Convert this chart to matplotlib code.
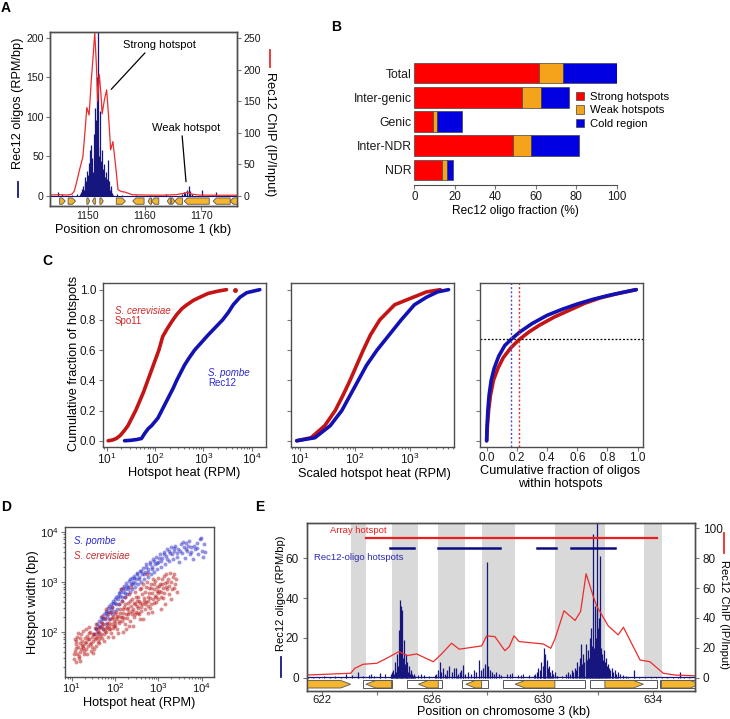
import numpy as np
import matplotlib
matplotlib.use("Agg")
import matplotlib.pyplot as plt
from matplotlib.patches import Polygon, Patch
from matplotlib.lines import Line2D
from matplotlib.ticker import LogLocator, NullFormatter, FixedLocator, FixedFormatter, FormatStrFormatter

plt.rcParams['font.family'] = ['Liberation Sans', 'DejaVu Sans']
plt.rcParams['mathtext.default'] = 'regular'

# ---------------- data ----------------
# A: chromosome 1 region
a_oligo_kb = np.round(np.arange(1148.6, 1154.45, 0.1), 2)
a_oligo_val = [2, 3, 5, 4,
               9, 6, 13, 8, 16, 24, 11, 19, 32, 15,
               26, 42, 21, 58, 18, 38, 65, 24, 48, 30,
               78, 28, 52, 112, 42, 96, 150, 62, 215, 50,
               36, 108, 32, 44, 27, 58, 22, 34, 19, 40,
               24, 16, 30, 13, 22, 46, 15, 19, 11, 8,
               13, 6, 4, 2, 1]
a_spike_kb = [1144.7, 1145.5, 1147.2, 1148.0, 1155.2, 1156.0, 1158.5, 1161.0, 1163.8,
              1166.6, 1166.9, 1167.2, 1167.5, 1167.8, 1168.0, 1168.3, 1170.2, 1172.6, 1174.5]
a_spike_val = [5, 2, 1.5, 2, 2, 1.5, 1, 1.5, 2, 3, 5, 4, 8, 12, 6, 3, 7.6, 5, 1.5]
a_chip_kb = [1143.3, 1145.0, 1146.5, 1147.2, 1147.6, 1148.0, 1148.5, 1149.1, 1149.5, 1149.8,
             1150.2, 1150.6, 1150.9, 1151.2, 1151.5, 1151.7, 1152.0, 1152.3, 1152.5, 1152.9,
             1153.3, 1153.7, 1154.0, 1154.4, 1154.9, 1155.3, 1155.9, 1156.6, 1157.2, 1157.8,
             1160.0, 1163.0, 1165.5, 1166.8, 1167.6, 1168.3, 1169.5, 1172.0, 1176.3]
a_chip_val = [1.5, 2, 1.5, 3, 8, 22, 41, 62, 105, 140,
              128, 185, 220, 258, 205, 150, 192, 160, 130, 152,
              168, 118, 73, 86, 46, 10, 7, 6, 4, 2,
              1.5, 1.2, 2, 4, 6, 3, 1.5, 1.2, 1.2]
a_genes = [(1145.0, 1146.0, 1), (1146.5, 1147.8, 1), (1149.8, 1150.3, 1), (1150.8, 1151.3, -1),
           (1152.1, 1152.7, 1), (1155.0, 1156.6, 1), (1157.9, 1159.9, -1), (1160.6, 1161.2, -1),
           (1161.2, 1162.5, -1), (1164.0, 1164.6, -1), (1164.7, 1165.3, 1), (1165.3, 1166.7, -1),
           (1167.0, 1171.4, -1), (1172.1, 1175.1, -1), (1175.1, 1176.6, -1)]

# B: oligo fractions (%)
b_cats = ['Total', 'Inter-genic', 'Genic', 'Inter-NDR', 'NDR']
b_strong = [61.8, 53.0, 9.1, 48.6, 13.5]
b_weak = [11.5, 9.4, 1.9, 8.9, 2.5]
b_cold = [26.7, 14.2, 12.7, 23.7, 3.0]

# C: cumulative distributions (log10 heat, fraction)
c1_sc_log = [1.03, 1.12, 1.2, 1.28, 1.36, 1.44, 1.52, 1.6, 1.68, 1.76, 1.84, 1.92, 2.0, 2.08,
             2.16, 2.25, 2.35, 2.45, 2.56, 2.66, 2.8, 2.93, 3.1, 3.3, 3.48]
c1_sc_y = [0.0, 0.005, 0.015, 0.035, 0.065, 0.1, 0.15, 0.2, 0.26, 0.32, 0.39, 0.46, 0.53, 0.6,
           0.69, 0.74, 0.79, 0.835, 0.875, 0.9, 0.93, 0.95, 0.975, 0.99, 1.0]
c1_sc_last = (3.66, 1.0)
c1_sp_log = [1.37, 1.5, 1.62, 1.72, 1.79, 1.86, 1.93, 2.06, 2.14, 2.22, 2.3, 2.38, 2.45, 2.53,
             2.61, 2.71, 2.82, 2.96, 3.1, 3.25, 3.4, 3.52, 3.62, 3.76, 3.9, 4.17]
c1_sp_y = [0.0, 0.003, 0.008, 0.015, 0.05, 0.08, 0.1, 0.15, 0.2, 0.25, 0.3, 0.35, 0.4, 0.45,
           0.5, 0.55, 0.6, 0.65, 0.7, 0.75, 0.8, 0.85, 0.9, 0.95, 0.98, 1.0]
c2_sc_log = [0.94, 1.2, 1.45, 1.64, 1.78, 1.91, 2.03, 2.15, 2.28, 2.45, 2.72, 3.06, 3.3, 3.55]
c2_sc_y = [0.0, 0.02, 0.1, 0.2, 0.3, 0.4, 0.5, 0.6, 0.7, 0.8, 0.9, 0.95, 0.985, 1.0]
c2_sp_log = [0.94, 1.27, 1.55, 1.76, 1.91, 2.06, 2.21, 2.4, 2.62, 2.84, 3.08, 3.3, 3.5, 3.7]
c2_sp_y = [0.0, 0.02, 0.1, 0.2, 0.3, 0.4, 0.5, 0.6, 0.7, 0.8, 0.9, 0.95, 0.985, 1.0]
c3_sp_x = [0.0, 0.003, 0.008, 0.016, 0.03, 0.05, 0.08, 0.12, 0.161, 0.22, 0.3, 0.4, 0.5, 0.6,
           0.7, 0.8, 0.9, 0.99]
c3_sp_y = [0.0, 0.1, 0.2, 0.3, 0.4, 0.48, 0.56, 0.63, 0.67, 0.72, 0.775, 0.83, 0.87, 0.905,
           0.935, 0.96, 0.982, 1.0]
c3_sc_x = [0.0, 0.005, 0.013, 0.025, 0.045, 0.075, 0.11, 0.16, 0.216, 0.28, 0.35, 0.45, 0.55,
           0.65, 0.75, 0.85, 0.99]
c3_sc_y = [0.0, 0.1, 0.2, 0.3, 0.4, 0.48, 0.55, 0.615, 0.67, 0.72, 0.765, 0.82, 0.865,
           0.91, 0.945, 0.97, 1.0]
c3_hline = 0.672
c3_sp_cut = 0.161
c3_sc_cut = 0.216

# D: hotspot heat vs width (log10 values)
d_sp = [(1.52, 1.95), (1.55, 2.05), (1.58, 2.15), (1.60, 1.98), (1.62, 2.22), (1.65, 2.10),
        (1.67, 2.30), (1.70, 2.18), (1.72, 2.05), (1.74, 2.35), (1.76, 2.25), (1.78, 2.42),
        (1.80, 2.15), (1.82, 2.32), (1.84, 2.48), (1.86, 2.25), (1.88, 2.40), (1.90, 2.55),
        (1.92, 2.35), (1.94, 2.50), (1.96, 2.62), (1.98, 2.42), (2.00, 2.58), (2.02, 2.70),
        (2.04, 2.45), (2.06, 2.65), (2.08, 2.78), (2.10, 2.55), (2.12, 2.72), (2.14, 2.85),
        (2.16, 2.62), (2.18, 2.80), (2.20, 2.92), (2.22, 2.70), (2.24, 2.85), (2.26, 2.98),
        (2.28, 2.75), (2.30, 2.90), (2.32, 3.02), (2.34, 2.80), (2.36, 2.95), (2.38, 3.08),
        (2.40, 2.85), (2.42, 3.00), (2.44, 3.12), (2.46, 2.90), (2.48, 3.05), (2.50, 3.15),
        (2.52, 2.95), (2.55, 3.10), (2.57, 3.22), (2.60, 3.00), (2.62, 3.15), (2.65, 3.28),
        (2.67, 3.05), (2.70, 3.20), (2.72, 3.35), (2.75, 3.10), (2.77, 3.25), (2.80, 3.40),
        (2.82, 3.15), (2.85, 3.30), (2.87, 3.45), (2.90, 3.20), (2.92, 3.35), (2.95, 3.50),
        (2.97, 3.25), (3.00, 3.40), (3.03, 3.55), (3.06, 3.30), (3.09, 3.48), (3.12, 3.60),
        (3.15, 3.35), (3.18, 3.52), (3.21, 3.65), (3.24, 3.42), (3.27, 3.58), (3.30, 3.70),
        (3.33, 3.45), (3.36, 3.62), (3.39, 3.72), (3.42, 3.50), (3.45, 3.66), (3.48, 3.40),
        (3.52, 3.75), (3.55, 3.58), (3.58, 3.70), (3.61, 3.48), (3.64, 3.78), (3.67, 3.62),
        (3.70, 3.82), (3.73, 3.55), (3.76, 3.70), (3.80, 3.45), (3.84, 3.65), (3.88, 3.78),
        (3.92, 3.55), (3.96, 3.85), (4.00, 3.62), (4.04, 3.50), (4.08, 3.60), (3.98, 3.88),
        (1.57, 2.08), (1.63, 2.12), (1.69, 2.25), (1.73, 2.28), (1.79, 2.38), (1.83, 2.40),
        (1.87, 2.52), (1.91, 2.45), (1.95, 2.58), (1.99, 2.65), (2.03, 2.55), (2.07, 2.72),
        (2.11, 2.80), (2.15, 2.70), (2.19, 2.88), (2.23, 2.78), (2.27, 2.92), (2.31, 2.85),
        (2.35, 3.05), (2.39, 2.95), (2.43, 3.08), (2.47, 2.98), (2.51, 3.18), (2.56, 3.05),
        (2.61, 3.22), (2.66, 3.15), (2.71, 3.30), (2.76, 3.20), (2.81, 3.35), (2.86, 3.25),
        (2.91, 3.42), (2.96, 3.38), (3.01, 3.48), (3.07, 3.42), (3.13, 3.55), (3.19, 3.45),
        (3.25, 3.62), (3.31, 3.55), (3.37, 3.68), (3.43, 3.58), (3.50, 3.62), (3.57, 3.80),
        (3.63, 3.65), (3.69, 3.72), (3.75, 3.60), (3.82, 3.72), (3.90, 3.68), (4.06, 3.75)]
d_sc = [(1.06, 1.45), (1.08, 1.62), (1.10, 1.75), (1.07, 1.85), (1.12, 1.55), (1.15, 1.70),
        (1.13, 1.90), (1.18, 1.60), (1.20, 1.78), (1.17, 1.48), (1.22, 1.95), (1.25, 1.68),
        (1.24, 1.82), (1.28, 1.55), (1.27, 1.72), (1.30, 1.88), (1.10, 1.40), (1.20, 1.42),
        (1.26, 2.02), (1.14, 1.98), (1.32, 1.65), (1.34, 1.80), (1.36, 1.92), (1.38, 1.72),
        (1.40, 1.85), (1.42, 2.00), (1.44, 1.62), (1.45, 1.78), (1.47, 1.90), (1.50, 1.82),
        (1.52, 1.95), (1.53, 2.08), (1.55, 1.72), (1.57, 1.88), (1.58, 2.00), (1.35, 1.55),
        (1.48, 1.58), (1.41, 2.10), (1.56, 2.15), (1.60, 1.80), (1.33, 2.05), (1.46, 1.70),
        (1.51, 1.65), (1.59, 1.92), (1.62, 1.85), (1.63, 2.00), (1.65, 2.10), (1.67, 1.95),
        (1.68, 2.20), (1.70, 1.88), (1.72, 2.05), (1.73, 2.15), (1.75, 1.95), (1.77, 2.28),
        (1.78, 2.08), (1.80, 2.00), (1.82, 2.18), (1.83, 2.35), (1.85, 2.05), (1.86, 2.12),
        (1.88, 2.25), (1.90, 1.98), (1.91, 2.40), (1.93, 2.15), (1.95, 2.08), (1.96, 2.30),
        (1.98, 2.22), (2.00, 2.12), (1.64, 1.78), (1.74, 1.82), (1.84, 1.90), (1.94, 2.50),
        (1.79, 2.45), (1.69, 2.32), (2.02, 2.25), (2.03, 2.40), (2.05, 2.05), (2.07, 2.32),
        (2.08, 2.55), (2.10, 2.18), (2.12, 2.45), (2.13, 2.30), (2.15, 2.62), (2.17, 2.22),
        (2.18, 2.38), (2.20, 2.50), (2.22, 2.15), (2.23, 2.70), (2.25, 2.35), (2.27, 2.45),
        (2.28, 2.28), (2.30, 2.58), (2.32, 2.40), (2.33, 2.75), (2.35, 2.22), (2.37, 2.52),
        (2.38, 2.35), (2.40, 2.65), (2.42, 2.45), (2.43, 2.30), (2.45, 2.80), (2.47, 2.55),
        (2.48, 2.40), (2.50, 2.62), (2.06, 1.98), (2.26, 2.05), (2.41, 2.12), (2.14, 2.85),
        (2.36, 2.90), (2.52, 2.48), (2.54, 2.70), (2.55, 2.35), (2.57, 2.85), (2.58, 2.58),
        (2.60, 2.42), (2.62, 2.75), (2.63, 2.55), (2.65, 2.95), (2.67, 2.62), (2.68, 2.45),
        (2.70, 2.80), (2.72, 2.60), (2.73, 3.00), (2.75, 2.70), (2.77, 2.52), (2.78, 2.88),
        (2.80, 2.68), (2.82, 2.95), (2.83, 2.55), (2.85, 2.78), (2.87, 3.05), (2.88, 2.65),
        (2.90, 2.85), (2.92, 2.72), (2.93, 3.02), (2.95, 2.60), (2.97, 2.90), (2.98, 2.78),
        (3.00, 3.08), (2.64, 2.25), (2.86, 2.40), (2.74, 3.15), (3.02, 2.82), (3.04, 2.95),
        (3.06, 2.70), (3.08, 3.05), (3.10, 2.88), (3.12, 3.12), (3.14, 2.78), (3.16, 2.98),
        (3.18, 3.15), (3.20, 2.85), (3.22, 3.05), (3.25, 2.92), (3.27, 3.18), (3.30, 3.00),
        (3.33, 3.10), (3.36, 2.88), (3.40, 3.05), (3.43, 2.80), (3.15, 2.55), (3.28, 2.65),
        (1.05, 1.55), (1.09, 1.68), (1.11, 1.82), (1.16, 1.52), (1.19, 1.88), (1.21, 1.65),
        (1.23, 1.74), (1.29, 1.62), (1.31, 1.78), (1.37, 1.85), (1.39, 1.98), (1.43, 1.75),
        (1.49, 1.95), (1.54, 1.85), (1.61, 2.05), (1.66, 1.92), (1.71, 2.12), (1.76, 2.02),
        (1.81, 2.10), (1.87, 2.18), (1.89, 2.05), (1.92, 2.28), (1.97, 2.12), (1.99, 2.35),
        (2.01, 2.18), (2.04, 2.30), (2.09, 2.22), (2.11, 2.38), (2.16, 2.30), (2.19, 2.45),
        (2.21, 2.28), (2.24, 2.55), (2.29, 2.35), (2.31, 2.48), (2.34, 2.62), (2.39, 2.42),
        (2.44, 2.58), (2.46, 2.35), (2.49, 2.70), (2.51, 2.52), (2.53, 2.38), (2.56, 2.62),
        (2.59, 2.50), (2.61, 2.88), (2.66, 2.68), (2.69, 2.55), (2.71, 2.90), (2.76, 2.62),
        (2.79, 2.78), (2.81, 2.48), (2.84, 2.88), (2.89, 2.58), (2.91, 2.95), (2.94, 2.70),
        (2.96, 2.82), (2.99, 2.65), (3.01, 2.92), (3.05, 2.80), (3.09, 2.95), (3.11, 2.68),
        (3.17, 2.90), (3.21, 3.00), (3.24, 2.75), (3.31, 2.85), (3.35, 3.15), (3.38, 2.95),
        (1.96, 1.90), (2.18, 2.00), (2.33, 2.12), (2.57, 2.25), (2.77, 2.38), (3.05, 2.45)]

# E: chromosome 3 region
e_cluster_start, e_cluster_step = 624.50, 0.03
e_cluster_val = [2, 3, 1, 4, 2, 8, 3, 5, 12, 6, 24, 39, 15, 36, 34, 10, 19, 7, 12, 5,
                 8, 3, 6, 2, 4, 3, 2, 1, 2, 1]
e_oligo_kb = [622.9, 623.3, 623.8, 624.1, 625.6, 626.15, 626.22, 626.27, 626.33, 626.4, 626.48,
              626.55, 626.62, 626.7, 626.78, 626.85, 626.92, 627.0, 627.05, 627.12, 627.2, 627.3,
              627.4, 627.5, 627.58, 627.68, 627.75, 627.85, 627.92, 627.99, 628.02, 628.08,
              628.15, 628.22, 628.3, 628.4, 628.8, 629.2, 629.72, 629.78, 629.84, 629.9, 629.95,
              630.0, 630.03, 630.05, 630.08, 630.1, 630.14, 630.18, 630.22, 630.27, 630.32,
              630.38, 630.45, 630.5, 630.85, 630.92, 631.0, 631.05, 631.1, 631.15, 631.2, 631.25,
              631.3, 631.35, 631.38, 631.42, 631.47, 631.5, 631.55, 631.57, 631.6, 631.64,
              631.68, 631.72, 631.75, 631.78, 631.8, 631.83, 631.86, 631.9, 631.93, 631.96,
              631.98, 632.0, 632.02, 632.05, 632.07, 632.1, 632.13, 632.17, 632.2, 632.24,
              632.28, 632.32, 632.36, 632.4, 632.45, 632.5, 632.55, 632.6, 632.66, 632.72,
              632.8, 632.9, 633.0, 633.3, 634.96]
e_oligo_val = [2, 3, 2, 2.5, 2, 2, 4, 8, 3, 5, 2,
               4, 6, 3, 5, 5, 2, 3, 4, 6.5, 2, 3,
               2, 4, 3, 9, 4, 5, 7, 58, 6, 4,
               3, 2, 3, 2, 2, 1.5, 2, 3, 5, 4, 8,
               6, 10, 15, 12, 7, 9, 5, 6, 3, 4,
               2, 3, 1, 2, 3, 2, 4, 3, 5, 4, 8,
               6, 10, 17, 7, 12, 8, 10, 17, 9, 14,
               10, 20, 25, 12, 16, 72, 15, 36, 20, 34,
               85, 25, 18, 30, 61, 15, 12, 9, 14, 8,
               10, 6, 7, 5, 4, 5, 3, 4, 2, 3,
               2, 1.5, 1, 4, 3]
e_bg_start, e_bg_step = 621.5, 0.2
e_bg_val = [0.5, 0.6, 0.4, 0.7, 0.5, 0.8, 0.6, 0.9, 1.2, 0.8, 1.0, 1.5, 0.9, 1.3, 1.8, 1.1,
            1.2, 0.9, 1.4, 1.0, 1.6, 1.3, 1.1, 1.5, 1.2, 0.9, 1.3, 1.0, 1.6, 1.2, 1.0, 1.4,
            1.8, 1.5, 2.0, 1.6, 1.8, 2.2, 1.5, 1.9, 1.4, 1.2, 1.0, 0.9, 1.1, 0.8, 1.0, 1.2,
            0.9, 0.7, 0.8, 0.6, 0.5, 0.7, 0.6, 0.5, 0.6, 0.5, 0.4, 0.5, 0.6, 0.4, 0.5, 0.4,
            0.5, 0.4, 0.5, 0.4, 0.5, 0.4]
e_chip_kb = [621.46, 623.05, 623.2, 623.5, 624.0, 624.35, 624.8, 625.08, 625.44, 626.04,
             626.34, 626.7, 626.98, 627.79, 627.97, 628.27, 628.63, 628.79, 628.96, 629.15,
             630.02, 630.29, 630.44, 630.77, 631.17, 631.37, 631.57, 631.83, 631.95, 632.37,
             632.73, 632.92, 633.52, 633.88, 634.36, 634.79, 635.51]
e_chip_val = [1.8, 3.0, 6.3, 9.0, 9.7, 13.0, 17.5, 14.8, 15.9, 10.7,
              15.9, 23.1, 19.1, 21.3, 28.0, 27.5, 18.1, 20.8, 28.0, 24.2,
              22.6, 19.7, 25.8, 44.8, 38.3, 44.3, 69.6, 54.4, 48.1, 34.7,
              28.7, 33.8, 11.9, 10.7, 3.0, 1.8, 1.3]
e_gray = [(623.05, 623.60), (624.53, 625.47), (626.22, 627.19), (627.81, 629.00),
          (630.44, 632.25), (633.66, 634.30)]
e_array_hotspot = (623.6, 634.15, 70)
e_oligo_hotspots = [(624.47, 625.35), (626.22, 628.45), (629.78, 630.47), (631.01, 632.63)]
e_oligo_hotspot_y = 65
e_gene_box = [(623.51, 624.53), (625.10, 626.34), (627.07, 628.01), (628.57, 631.53),
              (631.71, 634.15), (634.24, 635.7)]
e_orf = [(621.3, 623.05, 1), (623.60, 624.53, -1), (625.50, 626.22, -1), (627.22, 627.79, -1),
         (629.00, 630.44, -1), (632.25, 633.64, 1), (634.30, 635.7, 1)]

# ---------------- style ----------------
W, H = 730, 719
NAVY = '#16167e'
CHIP = '#ee2b2b'
SC_RED = '#c41414'
SP_BLUE = '#1212b4'
GENE = '#f5b52e'
EDGE = '#555555'

fig = plt.figure(figsize=(W / 100, H / 100), dpi=100)


def rect(l, t, r, b):
    return [l / W, 1 - b / H, (r - l) / W, (b - t) / H]


def ftext(x, y, s, **kw):
    kw.setdefault('ha', 'center')
    kw.setdefault('va', 'center')
    fig.text(x / W, 1 - y / H, s, **kw)


def fline(x0, y0, x1, y1, **kw):
    fig.add_artist(Line2D([x0 / W, x1 / W], [1 - y0 / H, 1 - y1 / H], **kw))


def style(ax, size=8.3):
    for s in ax.spines.values():
        s.set_color('#4d4d4d')
        s.set_linewidth(1.0)
    ax.tick_params(which='both', direction='out', color='#777777', labelcolor='#1a1a1a',
                   labelsize=size, width=0.8)
    ax.tick_params(which='major', length=3, pad=1.5)
    ax.tick_params(which='minor', length=1.6)


def add_gene(ax, start, end, strand, yc, h, tip, fc, z=3):
    tip = min(tip, (end - start) * 0.6)
    y0, y1 = yc - h / 2, yc + h / 2
    if strand > 0:
        pts = [(start, y0), (end - tip, y0), (end, yc), (end - tip, y1), (start, y1)]
    else:
        pts = [(end, y0), (start + tip, y0), (start, yc), (start + tip, y1), (end, y1)]
    ax.add_patch(Polygon(pts, closed=True, facecolor=fc, edgecolor=EDGE, lw=0.6, zorder=z))


# ---------------- A ----------------
axA = fig.add_axes(rect(50, 32, 237, 206))
style(axA, 7.6)
axA.set_xlim(1143.3, 1176.3)
axA.set_ylim(-12.7, 207.6)
axA.plot([1143.3, 1176.3], [0.4, 0.4], color=NAVY, lw=0.8)
axA.vlines(a_oligo_kb, 0, a_oligo_val, color=NAVY, lw=0.9)
axA.vlines(a_spike_kb, 0, a_spike_val, color=NAVY, lw=0.9)
for g0, g1, st in a_genes:
    add_gene(axA, g0, g1, st, -6.5, 8, 0.55, GENE)
axA.set_xticks([1150, 1160, 1170])
axA.set_yticks([0, 50, 100, 150, 200])
axA.tick_params(axis='x', pad=0.8)
axA2 = axA.twinx()
style(axA2, 7.6)
axA2.plot(a_chip_kb, a_chip_val, color=CHIP, lw=0.9)
axA2.set_ylim(-12.7 * 1.25, 207.6 * 1.25)
axA2.set_yticks([0, 50, 100, 150, 200, 250])
axA.annotate('Strong hotspot', xy=(1154.1, 135), xytext=(1162.7, 191), fontsize=8,
             ha='center', va='center',
             arrowprops=dict(arrowstyle='-', color='black', lw=0.9, relpos=(0.33, 0), shrinkA=0, shrinkB=0))
axA.annotate('Weak hotspot', xy=(1167.3, 18), xytext=(1167.3, 86), fontsize=8,
             ha='center', va='center',
             arrowprops=dict(arrowstyle='-', color='black', lw=0.9, relpos=(0.44, 0), shrinkA=0, shrinkB=0))
ftext(18.3, 103, 'Rec12 oligos (RPM/bp)', rotation=90, fontsize=9.2)
fline(18.3, 181.7, 18.3, 196.7, color=NAVY, lw=1.3)
ftext(270, 134.5, 'Rec12 ChIP (IP/Input)', rotation=-90, fontsize=9.2)
fline(270, 50, 270, 67, color=CHIP, lw=1.3)
ftext(143, 230, 'Position on chromosome 1 (kb)', fontsize=9.2)

# ---------------- B ----------------
axB = fig.add_axes(rect(414.3, 58, 616.7, 185))
ypos = np.arange(len(b_cats))[::-1]
strong = np.array(b_strong)
weak = np.array(b_weak)
cold = np.array(b_cold)
axB.barh(ypos, strong, height=0.85, color='#ff0000', edgecolor='#444444', lw=0.5, label='Strong hotspots')
axB.barh(ypos, weak, height=0.85, left=strong, color='#f5a31a', edgecolor='#444444', lw=0.5, label='Weak hotspots')
axB.barh(ypos, cold, height=0.85, left=strong + weak, color='#0000e0', edgecolor='#444444', lw=0.5, label='Cold region')
axB.set_xlim(0, 100)
axB.set_ylim(-0.62, 4.62)
for s in ['top', 'right', 'left']:
    axB.spines[s].set_visible(False)
axB.spines['bottom'].set_color('#4d4d4d')
axB.spines['bottom'].set_bounds(0, 100)
axB.set_yticks(ypos)
axB.set_yticklabels(b_cats)
axB.set_xticks([0, 20, 40, 60, 80, 100])
axB.tick_params(axis='y', length=0, pad=2, labelsize=8.8, labelcolor='#1a1a1a')
axB.tick_params(axis='x', direction='out', length=3, pad=1.5, color='#777777', labelsize=8.3, labelcolor='#1a1a1a')
fig.legend(handles=[Patch(facecolor='#ff0000', edgecolor='#444444', lw=0.5, label='Strong hotspots'),
                    Patch(facecolor='#f5a31a', edgecolor='#444444', lw=0.5, label='Weak hotspots'),
                    Patch(facecolor='#0000e0', edgecolor='#444444', lw=0.5, label='Cold region')],
           loc='upper left', bbox_to_anchor=(576 / W, 1 - 92 / H), frameon=False, fontsize=8.1,
           handlelength=0.75, handleheight=0.75, handletextpad=0.45, labelspacing=0.3, borderpad=0,
           borderaxespad=0)
ftext(515, 211, 'Rec12 oligo fraction (%)', fontsize=8.6)

# ---------------- C ----------------
c_tb = (283, 447.4)
axC1 = fig.add_axes(rect(102.5, c_tb[0], 265.5, c_tb[1]))
axC2 = fig.add_axes(rect(291, c_tb[0], 454.3, c_tb[1]))
axC3 = fig.add_axes(rect(480.3, c_tb[0], 643.3, c_tb[1]))
for ax in (axC1, axC2, axC3):
    style(ax, 8.5)
    ax.set_ylim(-0.044, 1.044)
    ax.set_yticks([0, 0.2, 0.4, 0.6, 0.8, 1.0])
    ax.tick_params(axis='x', pad=0.3)
axC1.yaxis.set_major_formatter(FormatStrFormatter('%.1f'))
axC2.set_yticklabels([])
axC3.set_yticklabels([])
for ax in (axC1, axC2):
    ax.set_xscale('log')
    ax.xaxis.set_major_locator(LogLocator(base=10, numticks=10))
    ax.xaxis.set_minor_locator(LogLocator(base=10, subs=np.arange(2, 10), numticks=10))
    ax.xaxis.set_minor_formatter(NullFormatter())
axC1.set_xlim(10 ** 0.913, 10 ** 4.288)
axC2.set_xlim(10 ** 0.836, 10 ** 3.805)
axC1.plot(10 ** np.array(c1_sc_log), c1_sc_y, color=SC_RED, lw=2.6, solid_capstyle='round')
axC1.plot([10 ** c1_sc_last[0]], [c1_sc_last[1]], 'o', color=SC_RED, ms=2.5)
axC1.plot(10 ** np.array(c1_sp_log), c1_sp_y, color=SP_BLUE, lw=2.6, solid_capstyle='round')
axC2.plot(10 ** np.array(c2_sc_log), c2_sc_y, color=SC_RED, lw=2.6, solid_capstyle='round')
axC2.plot(10 ** np.array(c2_sp_log), c2_sp_y, color=SP_BLUE, lw=2.6, solid_capstyle='round')
axC3.plot(c3_sc_x, c3_sc_y, color=SC_RED, lw=2.6, solid_capstyle='round')
axC3.plot(c3_sp_x, c3_sp_y, color=SP_BLUE, lw=2.6, solid_capstyle='round')
axC3.axhline(c3_hline, color='black', lw=0.9, ls=(0, (1.5, 1.5)))
axC3.axvline(c3_sp_cut, color='#4a4ae6', lw=1.0, ls=(0, (1.5, 1.5)))
axC3.axvline(c3_sc_cut, color='#e03030', lw=1.0, ls=(0, (1.5, 1.5)))
axC3.set_xlim(-0.042, 1.037)
axC3.set_xticks([0, 0.2, 0.4, 0.6, 0.8, 1.0])
axC3.xaxis.set_major_formatter(FormatStrFormatter('%.1f'))
axC1.text(0.077, 0.832, 'S. cerevisiae', transform=axC1.transAxes, color='#d42424', fontsize=7,
          style='italic', va='center')
axC1.text(0.077, 0.768, 'Spo11', transform=axC1.transAxes, color='#d42424', fontsize=7, va='center')
axC1.text(0.649, 0.450, 'S. pombe', transform=axC1.transAxes, color='#2a2ad0', fontsize=7,
          style='italic', va='center')
axC1.text(0.649, 0.393, 'Rec12', transform=axC1.transAxes, color='#2a2ad0', fontsize=7, va='center')
ftext(73.5, 363.5, 'Cumulative fraction of hotspots', rotation=90, fontsize=9.2)
ftext(184, 473, 'Hotspot heat (RPM)', fontsize=9.2)
ftext(374.3, 473.5, 'Scaled hotspot heat (RPM)', fontsize=9.2)
ftext(560.3, 477.5, 'Cumulative fraction of oligos\nwithin hotspots', fontsize=9.2, linespacing=1.1)

# ---------------- D ----------------
axD = fig.add_axes(rect(65, 526.7, 214.3, 677.3))
style(axD, 8.2)
axD.tick_params(axis='x', pad=0)
sp = np.array(d_sp)
sc = np.array(d_sc)
axD.scatter(10 ** sp[:, 0], 10 ** sp[:, 1], s=8, color='#2a2ac8', alpha=0.5, lw=0)
axD.scatter(10 ** sc[:, 0], 10 ** sc[:, 1], s=8, color='#b81a1a', alpha=0.5, lw=0)
axD.set_xscale('log')
axD.set_yscale('log')
for axis in (axD.xaxis, axD.yaxis):
    axis.set_major_locator(LogLocator(base=10, numticks=10))
    axis.set_minor_locator(LogLocator(base=10, subs=np.arange(2, 10), numticks=10))
    axis.set_minor_formatter(NullFormatter())
axD.set_xlim(10 ** 0.845, 10 ** 4.29)
axD.set_ylim(10 ** 1.088, 10 ** 4.1)
axD.text(0.06, 0.907, 'S. pombe', transform=axD.transAxes, color='#2a2ad0', fontsize=7,
         style='italic', va='center')
axD.text(0.06, 0.805, 'S. cerevisiae', transform=axD.transAxes, color='#c42a2a', fontsize=7,
         style='italic', va='center')
ftext(33, 601.7, 'Hotspot width (bp)', rotation=90, fontsize=9.2)
ftext(139, 703, 'Hotspot heat (RPM)', fontsize=9.2)

# ---------------- E ----------------
axE = fig.add_axes(rect(306.7, 522.5, 695, 690.7))
style(axE, 8.5)
axE.set_xlim(621.46, 635.51)
axE.set_ylim(-6.5, 77.9)
for g0, g1 in e_gray:
    axE.fill_between([g0, g1], 0, 200, color='#d9d9d9', lw=0, zorder=0)
e_cluster_kb = e_cluster_start + e_cluster_step * np.arange(len(e_cluster_val))
e_bg_kb = e_bg_start + e_bg_step * np.arange(len(e_bg_val))
axE.plot([621.46, 635.51], [0.3, 0.3], color=NAVY, lw=0.9, zorder=2)
axE.vlines(e_bg_kb, 0, e_bg_val, color=NAVY, lw=0.8, zorder=2)
axE.vlines(e_cluster_kb, 0, e_cluster_val, color=NAVY, lw=0.9, zorder=2)
axE.vlines(e_oligo_kb, 0, e_oligo_val, color=NAVY, lw=0.9, zorder=2)
axE.plot(e_array_hotspot[:2], [e_array_hotspot[2]] * 2, color='#ee1c1c', lw=1.6, zorder=3)
for h0, h1 in e_oligo_hotspots:
    axE.plot([h0, h1], [e_oligo_hotspot_y] * 2, color='#0c0c80', lw=1.8, zorder=3)
for b0, b1 in e_gene_box:
    axE.add_patch(Polygon([(b0, -5.3), (b1, -5.3), (b1, -1.2), (b0, -1.2)], closed=True,
                          facecolor='white', edgecolor=EDGE, lw=0.7, zorder=3))
for g0, g1, st in e_orf:
    add_gene(axE, g0, g1, st, -3.25, 3.8, 0.36, GENE, z=4)
axE.xaxis.set_major_locator(FixedLocator([622, 624, 626, 628, 630, 632, 634]))
axE.xaxis.set_major_formatter(FixedFormatter(['622', '', '626', '', '630', '', '634']))
axE.set_yticks([0, 20, 40, 60])
axE.tick_params(axis='y', pad=2.5)
axE.tick_params(axis='x', pad=0.3, labelsize=8.2)
axE.text(0.06, 0.951, 'Array hotspot', transform=axE.transAxes, color='#ee1c1c', fontsize=6.8, va='center')
axE.text(0.019, 0.793, 'Rec12-oligo hotspots', transform=axE.transAxes, color='#2a2ab0', fontsize=6.8,
         va='center')
axE2 = axE.twinx()
style(axE2, 8.5)
axE2.plot(e_chip_kb, e_chip_val, color=CHIP, lw=0.9)
axE2.set_ylim(-6.5 * 4 / 3, 77.9 * 4 / 3)
axE2.set_yticks([0, 20, 40, 60, 80, 100])
axE2.tick_params(axis='y', pad=2.5)
ftext(280.7, 593.3, 'Rec12 oligos (RPM/bp)', rotation=90, fontsize=8)
fline(280.7, 656.7, 280.7, 676.7, color=NAVY, lw=1.3)
ftext(724, 614, 'Rec12 ChIP (IP/Input)', rotation=-90, fontsize=8)
fline(724, 533, 724, 553, color=CHIP, lw=1.3)
ftext(504, 712.5, 'Position on chromosome 3 (kb)', fontsize=9)

# panel letters
for letter, (x, y) in {'A': (6, 8), 'B': (335.7, 27), 'C': (47.7, 261), 'D': (6, 506.7),
                       'E': (260, 506.7)}.items():
    ftext(x, y, letter, fontsize=10, fontweight='bold')

fig.savefig('out.png', dpi=100)
